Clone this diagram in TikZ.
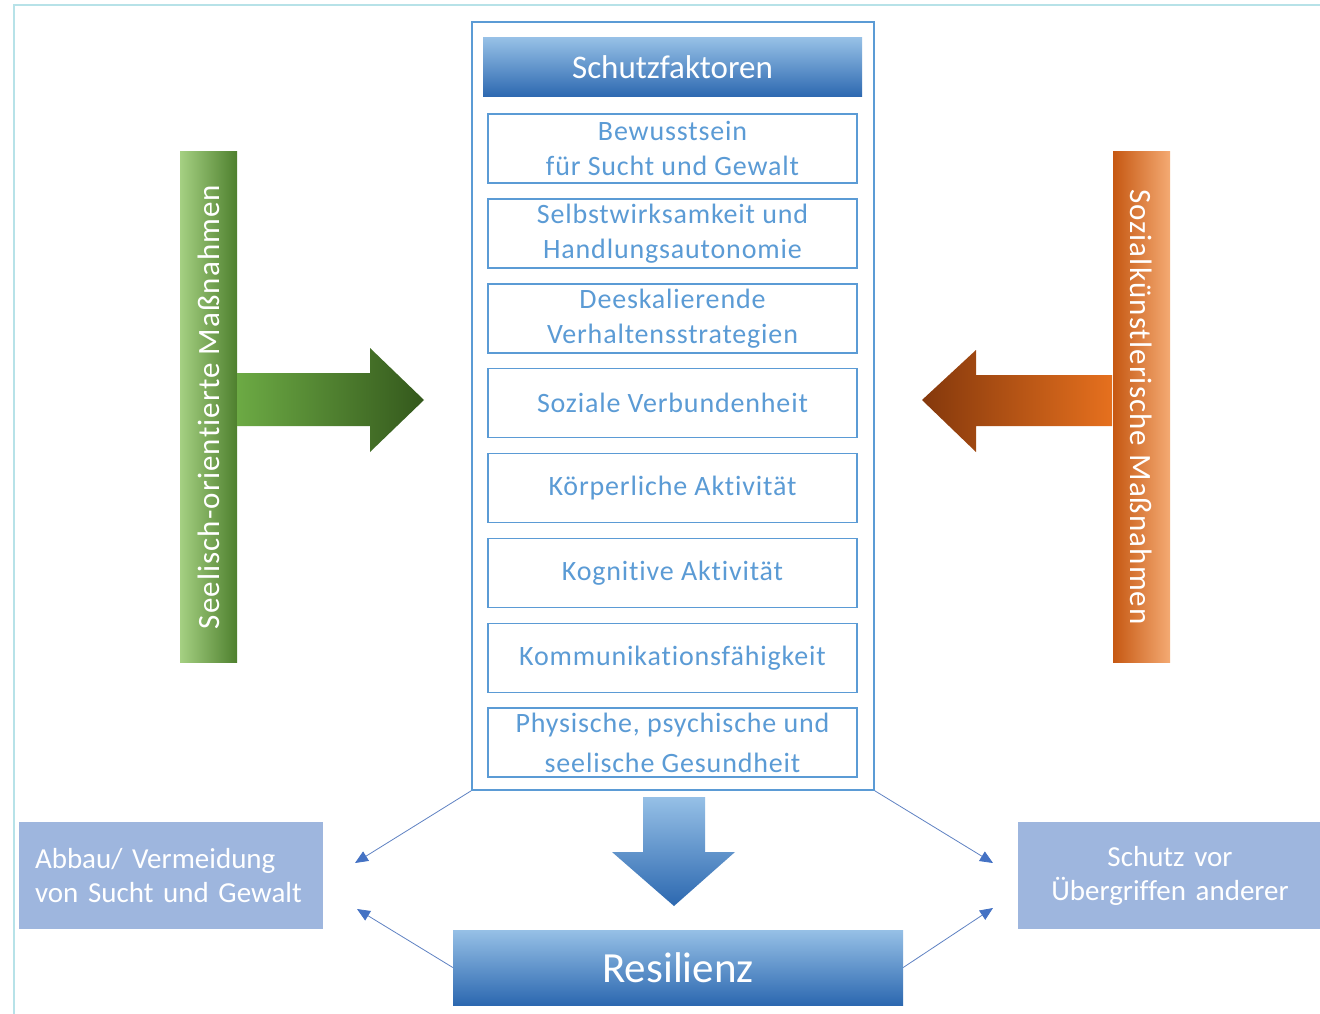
\documentclass[tikz,border=0pt]{standalone}
\usepackage{fontspec}
\setmainfont{Carlito}[Ligatures=NoCommon]
\usetikzlibrary{positioning,arrows.meta}
\definecolor{framecolor}{RGB}{183,226,232}
\definecolor{boxblue}{RGB}{91,155,213}
\definecolor{headtop}{RGB}{150,192,230}
\definecolor{headbottom}{RGB}{44,104,176}
\definecolor{linkcolor}{RGB}{95,130,195}
\definecolor{tipcolor}{RGB}{68,114,196}
\definecolor{resultcolor}{RGB}{158,182,222}
\definecolor{greenlight}{RGB}{165,208,130}
\definecolor{greendark}{RGB}{78,128,46}
\definecolor{arrowgreenlight}{RGB}{108,170,68}
\definecolor{arrowgreendark}{RGB}{52,88,28}
\definecolor{orangedark}{RGB}{198,88,18}
\definecolor{orangelight}{RGB}{244,170,115}
\definecolor{arroworangedark}{RGB}{132,56,12}
\definecolor{arroworangelight}{RGB}{230,112,30}

\begin{document}
\begin{tikzpicture}[
        x=1pt, y=-1pt,
        factor/.style={draw=boxblue, line width=1.2pt, fill=white, minimum width=369pt, minimum height=69pt, inner sep=0pt, align=center, text=boxblue, font=\fontsize{28}{35}\selectfont\addfontfeatures{LetterSpace=3}},
        header/.style={top color=headtop, bottom color=headbottom, minimum width=379pt, minimum height=59pt, inner sep=0pt, text=white, font=\fontsize{33}{40}\selectfont},
        sidebar/.style={minimum width=510pt, minimum height=57pt, inner sep=0pt, text=white, font=\fontsize{31}{37}\selectfont\addfontfeatures{LetterSpace=3.5}},
        result/.style={fill=resultcolor, minimum height=107pt, text width=272pt, inner xsep=16pt, inner ysep=0pt, text=white, font=\fontsize{29}{34}\selectfont},
        link/.style={draw=linkcolor, line width=0.8pt, -{Triangle[length=13pt, width=11pt, color=tipcolor]}}
    ]
        \fill[white] (0,0) rectangle (1320,1014);
        \useasboundingbox (0,0) rectangle (1320,1014);
        \draw[framecolor, line width=1.2pt] (14,1014) -- (14,5) -- (1320,5);

        % Protective factors
        \node[draw=boxblue, line width=1.5pt, fill=white, minimum width=402pt, minimum height=768pt] (outer) at (673,406) {};
        \node[header] (schutz) at (672.5,67.5) {Schutzfaktoren};
        \node[factor] (bewusst) at (672.5,148.5) {Bewusstsein\\ für Sucht und Gewalt};
        \node[factor] (selbst) at (672.5,233.5) {Selbstwirksamkeit und\\ Handlungsautonomie};
        \node[factor] (deeskal) at (672.5,318.5) {Deeskalierende\\ Verhaltensstrategien};
        \node[factor] (sozial) at (672.5,403) {Soziale Verbundenheit};
        \node[factor] (koerper) at (672.5,488) {Körperliche Aktivität};
        \node[factor] (kognitiv) at (672.5,573) {Kognitive Aktivität};
        \node[factor] (kommun) at (672.5,658) {Kommunikationsfähigkeit};
        \node[factor, font=\fontsize{28}{40}\selectfont\addfontfeatures{LetterSpace=3}] (gesund) at (672.5,742.5) {Physische, psychische und\\ seelische Gesundheit};

        % Left measures
        \node[sidebar, rotate=90, left color=greenlight, right color=greendark] (seelisch) at (208.5,407) {Seelisch-orientierte Maßnahmen};
        \shade[left color=arrowgreenlight, right color=arrowgreendark] (237,373) -- (370,373) -- (370,348) -- (424,400) -- (370,452) -- (370,426) -- (237,426) -- cycle;

        % Right measures
        \node[sidebar, rotate=-90, left color=orangedark, right color=orangelight] (sozialk) at (1141.5,407) {Sozialkünstlerische Maßnahmen};
        \shade[left color=arroworangedark, right color=arroworangelight] (1112,375) -- (976,375) -- (976,350) -- (922,400) -- (976,452) -- (976,426) -- (1112,426) -- cycle;

        % Result
        \shade[top color=headtop, bottom color=headbottom] (643,797) -- (705,797) -- (705,852) -- (735,852) -- (674,906) -- (612,852) -- (643,852) -- cycle;
        \node[header, minimum width=450pt, minimum height=75pt, font=\fontsize{43}{50}\selectfont] (resilienz) at (678,967.5) {Resilienz};

        % Effects
        \node[result, align=left] (abbau) at (171,875.5) {Abbau/ Vermeidung\\ von Sucht und Gewalt};
        \node[result, align=center] (uebergriff) at (1170,875.5) {Schutz vor\\ Übergriffen anderer};
        \coordinate (abbau_a) at (355,863);
        \coordinate (abbau_b) at (357,909);
        \coordinate (ueber_a) at (993,863);
        \coordinate (ueber_b) at (993,908);
        \draw[link] (outer.south west) -- (abbau_a);
        \draw[link] (resilienz.west) -- (abbau_b);
        \draw[link] (outer.south east) -- (ueber_a);
        \draw[link] (resilienz.east) -- (ueber_b);

    \end{tikzpicture}
\end{document}
